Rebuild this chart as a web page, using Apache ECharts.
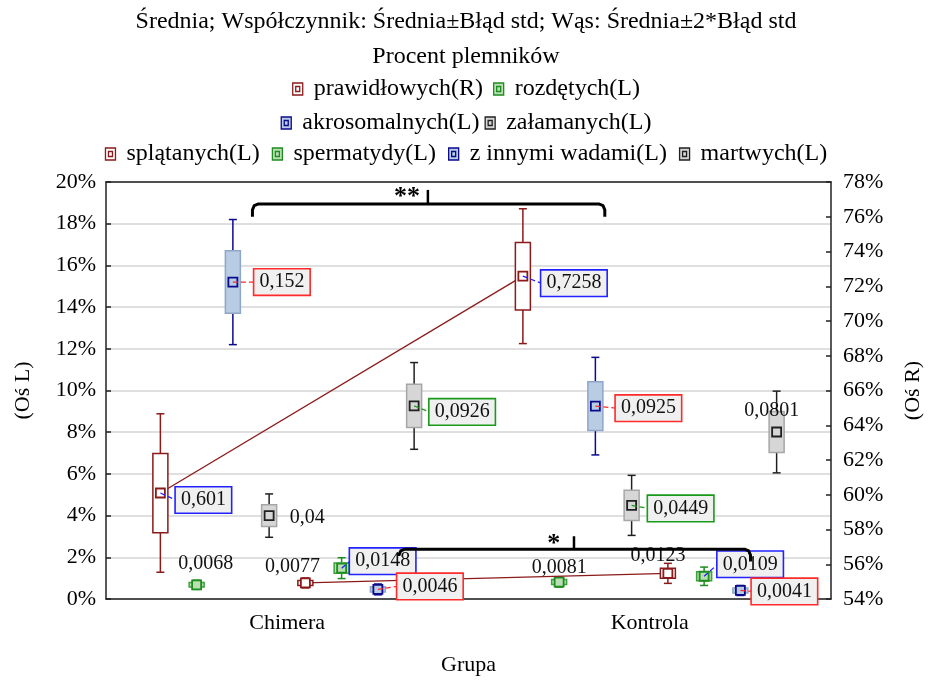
<!DOCTYPE html>
<html><head><meta charset="utf-8">
<script src="https://cdn.jsdelivr.net/npm/echarts@6/dist/echarts.min.js"></script>
<style>html,body{margin:0;padding:0;background:#fff}#c{width:932px;height:681px}</style>
</head><body><div id="c"></div>
<script>
// ---------------- DATA ----------------
const categories = ['Chimera', 'Kontrola'];
const seriesNames = ['prawidłowych(R)', 'rozdętych(L)', 'akrosomalnych(L)', 'załamanych(L)',
                     'splątanych(L)', 'spermatydy(L)', 'z innymi wadami(L)', 'martwych(L)'];
// mean values [Chimera, Kontrola]
const meanPrawidlowych = [0.601, 0.7258];
const meanRozdetych = [0.0068, 0.0081];
const meanAkrosomalnych = [0.152, 0.0925];
const meanZalamanych = [0.04, 0.0449];
const meanSplatanych = [0.0077, 0.0123];
const meanSpermatydy = [0.0148, 0.0109];
const meanInneWady = [0.0046, 0.0041];
const meanMartwych = [0.0926, 0.0801];
// standard errors [Chimera, Kontrola]
const sePrawidlowych = [0.0228, 0.0194];
const seRozdetych = [0.0011, 0.0012];
const seAkrosomalnych = [0.0150, 0.0117];
const seZalamanych = [0.0052, 0.0072];
const seSplatanych = [0.0012, 0.0024];
const seSpermatydy = [0.0025, 0.0022];
const seInneWady = [0.0013, 0.0012];
const seMartwych = [0.0104, 0.0098];
// axis ranges
const leftAxis = { min: 0, max: 0.20, step: 0.02 };
const rightAxis = { min: 0.54, max: 0.78, step: 0.02 };

const means = [meanPrawidlowych, meanRozdetych, meanAkrosomalnych, meanZalamanych,
               meanSplatanych, meanSpermatydy, meanInneWady, meanMartwych];
const ses = [sePrawidlowych, seRozdetych, seAkrosomalnych, seZalamanych,
             seSplatanych, seSpermatydy, seInneWady, seMartwych];
const useRightAxis = [true, false, false, false, false, false, false, false];
const connectSeries = [true, false, false, false, true, false, false, false];

// ---------------- STYLE / LAYOUT ----------------
const FONT = '"Liberation Serif", "Times New Roman", serif';
const RED = { fill: '#FFFFFF', border: '#8B1A1A', whisker: '#8B1A1A', mean: '#8B1A1A' };
const GREEN = { fill: '#B9DFB3', border: '#3CA23C', whisker: '#1E8C1E', mean: '#1E8C1E' };
const BLUE = { fill: '#B8CCE4', border: '#8EA6CA', whisker: '#0A0A8C', mean: '#0A0A8C' };
const GREY = { fill: '#D6D6D6', border: '#A6A6A6', whisker: '#202020', mean: '#202020' };
const styles = [RED, GREEN, BLUE, GREY, RED, GREEN, BLUE, GREY];
const LBL = { blue: '#2222FF', red: '#FF2A2A', green: '#1A9A1A' };
// label offsets from mean marker [dx, dy, frame colour]
const labelLayout = [
  [[43, 7, 'blue'], [51, 7, 'blue']],
  [[9, -21, null], [0, -14, null]],
  [[49, 0, 'red'], [53, 2, 'red']],
  [[38, 2, null], [49, 3, 'green']],
  [[-13, -16, null], [-10, -18, null]],
  [[41, -7, 'blue'], [46, -12, 'blue']],
  [[52, -3, 'red'], [44, 1, 'red']],
  [[48, 6, 'green'], [-5, -21, null]]
];

const measureCtx = document.createElement('canvas').getContext('2d');
measureCtx.font = '20px ' + FONT;

function fmt(v) { return String(v).replace('.', ','); }

function makeRender(si) {
  return function (params, api) {
    const cat = api.value(0), m = api.value(1), se = api.value(2);
    const band = api.size([1, 0])[0];
    const slot = band / 10;
    const off = (si - 3.5) * slot;
    const base = api.coord([cat, m]);
    const x = base[0] + off, y = base[1];
    const yb1 = api.coord([cat, m + se])[1], yb0 = api.coord([cat, m - se])[1];
    const yw1 = api.coord([cat, m + 2 * se])[1], yw0 = api.coord([cat, m - 2 * se])[1];
    const st = styles[si];
    const bw = 15, cw = 8, ms = 9;
    const ch = [];
    if (connectSeries[si] && params.dataIndex === 0) {
      const p = api.coord([1, means[si][1]]);
      ch.push({ type: 'line', shape: { x1: x, y1: y, x2: p[0] + off, y2: p[1] },
        style: { stroke: st.whisker, lineWidth: 1.3 } });
    }
    ch.push({ type: 'line', shape: { x1: x, y1: yw1, x2: x, y2: yb1 }, style: { stroke: st.whisker, lineWidth: 1.5 } });
    ch.push({ type: 'line', shape: { x1: x, y1: yw0, x2: x, y2: yb0 }, style: { stroke: st.whisker, lineWidth: 1.5 } });
    ch.push({ type: 'line', shape: { x1: x - cw / 2, y1: yw1, x2: x + cw / 2, y2: yw1 }, style: { stroke: st.whisker, lineWidth: 1.5 } });
    ch.push({ type: 'line', shape: { x1: x - cw / 2, y1: yw0, x2: x + cw / 2, y2: yw0 }, style: { stroke: st.whisker, lineWidth: 1.5 } });
    ch.push({ type: 'rect', shape: { x: x - bw / 2, y: yb1, width: bw, height: yb0 - yb1 },
      style: { fill: st.fill, stroke: st.border, lineWidth: 1.5 } });
    ch.push({ type: 'rect', shape: { x: x - ms / 2, y: y - ms / 2, width: ms, height: ms },
      style: { fill: st.fill, stroke: st.mean, lineWidth: 1.8 } });
    const lay = labelLayout[si][cat];
    const txt = fmt(m);
    const lx = x + lay[0], ly = y + lay[1];
    if (lay[2]) {
      const c = LBL[lay[2]];
      const w = measureCtx.measureText(txt).width + 10;
      ch.push({ type: 'line', shape: { x1: x, y1: y, x2: lx - w / 2, y2: ly },
        style: { stroke: c, lineWidth: 1.3, lineDash: [5, 3] } });
      ch.push({ type: 'text', x: lx, y: ly, style: { text: txt, font: '20px ' + FONT, fill: '#111',
        align: 'center', verticalAlign: 'middle', backgroundColor: '#F0F0F0',
        borderColor: c, borderWidth: 1.6, padding: [3, 5, 2, 5] } });
    } else {
      ch.push({ type: 'text', x: lx, y: ly, style: { text: txt, font: '20px ' + FONT, fill: '#111',
        align: 'center', verticalAlign: 'middle' } });
    }
    return { type: 'group', children: ch };
  };
}

const series = seriesNames.map(function (name, si) {
  return {
    name: name,
    type: 'custom',
    xAxisIndex: 0,
    yAxisIndex: useRightAxis[si] ? 1 : 0,
    itemStyle: { color: styles[si].fill, borderColor: styles[si].mean, borderWidth: 1 },
    encode: { x: 0, y: 1 },
    renderItem: makeRender(si),
    data: categories.map(function (c, ci) { return [ci, means[si][ci], ses[si][ci]]; })
  };
});

const iconPath = 'path://M0,0H10V12H0Z M3,3.5H7V8.5H3Z';
function legendData(idx) {
  return idx.map(function (i) {
    return { name: seriesNames[i], icon: iconPath,
      itemStyle: { color: styles[i].fill, borderColor: styles[i].mean, borderWidth: 1.3 } };
  });
}
const legendCommon = { left: 'center', padding: 0, itemWidth: 10, itemHeight: 12,
  textStyle: { fontFamily: FONT, fontSize: 24, color: '#000', padding: [0, 0, 0, 6] } };

function pct(v) { return Math.round(v * 100) + '%'; }
const axisLineStyle = { color: '#222', width: 1.5 };

const option = {
  backgroundColor: '#fff',
  animation: false,
  title: {
    text: 'Średnia; Współczynnik: Średnia±Błąd std; Wąs: Średnia±2*Błąd std\nProcent plemników',
    left: 'center', top: 4, padding: 0,
    textStyle: { fontFamily: FONT, fontSize: 24, fontWeight: 'normal', color: '#000', lineHeight: 35 }
  },
  legend: [
    Object.assign({}, legendCommon, { top: 77, itemGap: 10, data: legendData([0, 1]) }),
    Object.assign({}, legendCommon, { top: 111, itemGap: 5, data: legendData([2, 3]) }),
    Object.assign({}, legendCommon, { top: 142, itemGap: 12, data: legendData([4, 5, 6, 7]) })
  ],
  grid: { left: 106, right: 99, top: 182, bottom: 81, containLabel: false },
  xAxis: [
    { type: 'category', data: categories, position: 'bottom',
      name: 'Grupa', nameLocation: 'middle', nameGap: 55,
      nameTextStyle: { fontFamily: FONT, fontSize: 22, color: '#000' },
      axisLine: { lineStyle: axisLineStyle },
      axisTick: { inside: true, alignWithLabel: true, length: 6, lineStyle: { color: '#222', width: 1.5 } },
      axisLabel: { fontFamily: FONT, fontSize: 22, color: '#000', margin: 13 },
      splitLine: { show: false } },
    { type: 'category', data: categories, position: 'top',
      axisLine: { lineStyle: axisLineStyle },
      axisTick: { inside: true, alignWithLabel: true, length: 6, lineStyle: { color: '#222', width: 1.5 } },
      axisLabel: { show: false }, splitLine: { show: false } }
  ],
  yAxis: [
    { type: 'value', position: 'left', min: leftAxis.min, max: leftAxis.max, interval: leftAxis.step,
      name: '(Oś L)', nameLocation: 'middle', nameRotate: 90, nameGap: 72,
      nameTextStyle: { fontFamily: FONT, fontSize: 22, color: '#000' },
      axisLine: { show: true, lineStyle: axisLineStyle },
      axisTick: { show: true, inside: true, length: 5, lineStyle: { color: '#222', width: 1.5 } },
      axisLabel: { fontFamily: FONT, fontSize: 22, color: '#000', margin: 10, formatter: pct },
      splitLine: { show: true, lineStyle: { color: '#D4D4D4', width: 1.5 } } },
    { type: 'value', position: 'right', min: rightAxis.min, max: rightAxis.max, interval: rightAxis.step,
      name: '(Oś R)', nameLocation: 'middle', nameRotate: 90, nameGap: 71,
      nameTextStyle: { fontFamily: FONT, fontSize: 22, color: '#000' },
      axisLine: { show: true, lineStyle: axisLineStyle },
      axisTick: { show: true, inside: true, length: 5, lineStyle: { color: '#222', width: 1.5 } },
      axisLabel: { fontFamily: FONT, fontSize: 22, color: '#000', margin: 12, formatter: pct },
      splitLine: { show: false } }
  ],
  series: series
};

const chart = echarts.init(document.getElementById('c'), null, { renderer: 'canvas' });
chart.setOption(option);

// ---------------- significance brackets (annotations) ----------------
// positions: [category index, offset in slots], levels in left-axis units
const brackets = [
  { from: [0, -0.96], to: [1, -1.24], peak: [0, 3.88], level: 0.1895, hookL: 0.1833, hookR: 0.1833, top: 0.1962, text: '**', textAt: [0, 3.3], textLevel: 0.1925 },
  { from: [0, 3.08], to: [1, 2.78], peak: [1, -2.09], level: 0.0239, hookL: 0.0206, hookR: 0.0180, top: 0.0301, text: '*', textAt: [1, -2.65], textLevel: 0.0262 }
];
const pC = chart.convertToPixel({ xAxisIndex: 0 }, 0);
const pK = chart.convertToPixel({ xAxisIndex: 0 }, 1);
const slotPx = (pK - pC) / 10;
function bx(p) { return (p[0] === 0 ? pC : pK) + p[1] * slotPx; }
function by(v) { return chart.convertToPixel({ yAxisIndex: 0 }, v); }
const gEls = [];
brackets.forEach(function (b) {
  const xl = bx(b.from), xr = bx(b.to), xp = bx(b.peak), yl = by(b.level);
  const r = 6;
  gEls.push({ type: 'polyline', z: 100, shape: { points: [
    [xl, by(b.hookL)], [xl, yl + r], [xl + r * 0.3, yl + r * 0.3], [xl + r, yl],
    [xr - r, yl], [xr - r * 0.3, yl + r * 0.3], [xr, yl + r], [xr, by(b.hookR)]
  ] }, style: { stroke: '#000', lineWidth: 3, fill: null, lineJoin: 'round' } });
  gEls.push({ type: 'line', z: 100, shape: { x1: xp, y1: yl, x2: xp, y2: by(b.top) },
    style: { stroke: '#000', lineWidth: 2.5 } });
  gEls.push({ type: 'text', z: 100, x: bx(b.textAt), y: by(b.textLevel),
    style: { text: b.text, font: 'bold 26px ' + FONT, fill: '#000', align: 'center', verticalAlign: 'middle' } });
});
chart.setOption({ graphic: gEls });
</script>
</body></html>
